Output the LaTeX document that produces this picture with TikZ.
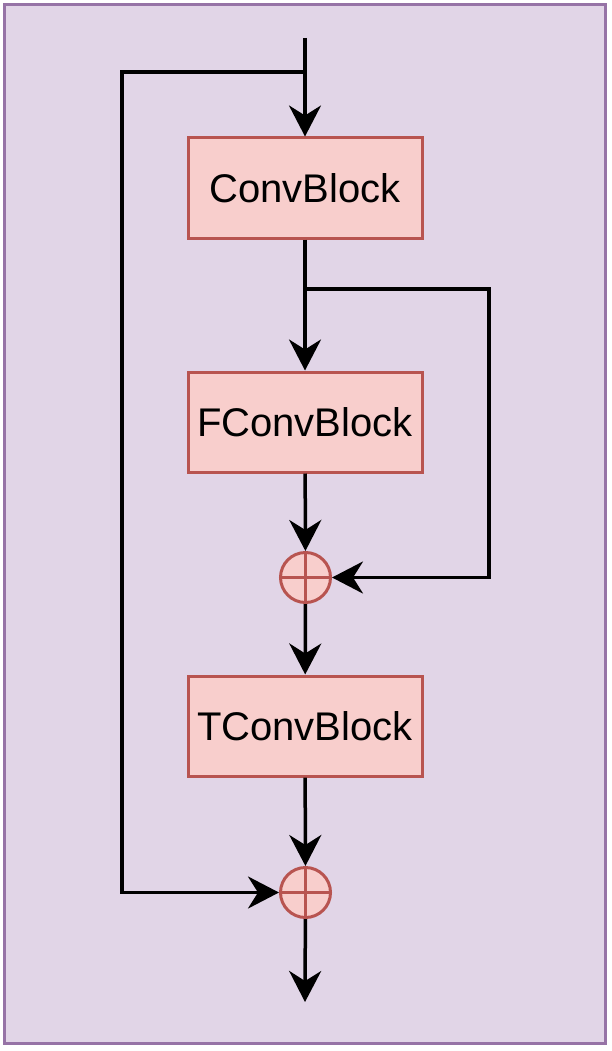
\documentclass[tikz,border=0pt]{standalone}
\usepackage{fontspec}
\setmainfont{Liberation Sans}
\usetikzlibrary{arrows.meta}
\definecolor{bgfill}{HTML}{E1D5E7}
\definecolor{bgline}{HTML}{9673A6}
\definecolor{boxfill}{HTML}{F8CECC}
\definecolor{boxline}{HTML}{B85450}
\begin{document}
\begin{tikzpicture}[x=1pt,y=-1pt,
  blockbox/.style={draw=boxline, fill=boxfill, line width=3pt, minimum width=234pt, minimum height=100pt, inner sep=0pt, font=\fontsize{40}{48}\selectfont},
  sumnode/.style={circle, draw=boxline, fill=boxfill, line width=3pt, minimum size=50pt, inner sep=0pt,
    path picture={\draw[boxline, line width=3pt] (path picture bounding box.north) -- (path picture bounding box.south) (path picture bounding box.west) -- (path picture bounding box.east);}},
  conn/.style={draw=black, line width=3.5pt},
  arr/.style={conn, -{Stealth[length=31pt, width=32pt, inset=10pt]}}]
\useasboundingbox (0,0) rectangle (611,1051);
\draw[bgline, fill=bgfill, line width=3pt] (4.5,4.5) rectangle (605.5,1043);
\node[blockbox] (cb) at (305,188) {ConvBlock};
\node[blockbox] (fb) at (305,422) {FConvBlock};
\node[blockbox] (tb) at (305,726) {TConvBlock};
\node[sumnode] (c1) at (305.5,577.5) {};
\node[sumnode] (c2) at (305.5,892.5) {};
\coordinate (in) at (305,38);
\coordinate (s1) at (305,72);
\coordinate (sk) at (122,72);
\coordinate (b1) at (305,289);
\coordinate (b2) at (489,289);
\coordinate (out) at (305,1002);
\draw[arr] (in) -- (cb);
\draw[arr] (s1) -- (sk) |- (c2);
\draw[arr] (cb) -- (fb);
\draw[arr] (b1) -- (b2) |- (c1);
\draw[arr] (fb) -- (c1);
\draw[arr] (c1) -- (tb);
\draw[arr] (tb) -- (c2);
\draw[arr] (c2) -- (out);
\end{tikzpicture}
\end{document}
